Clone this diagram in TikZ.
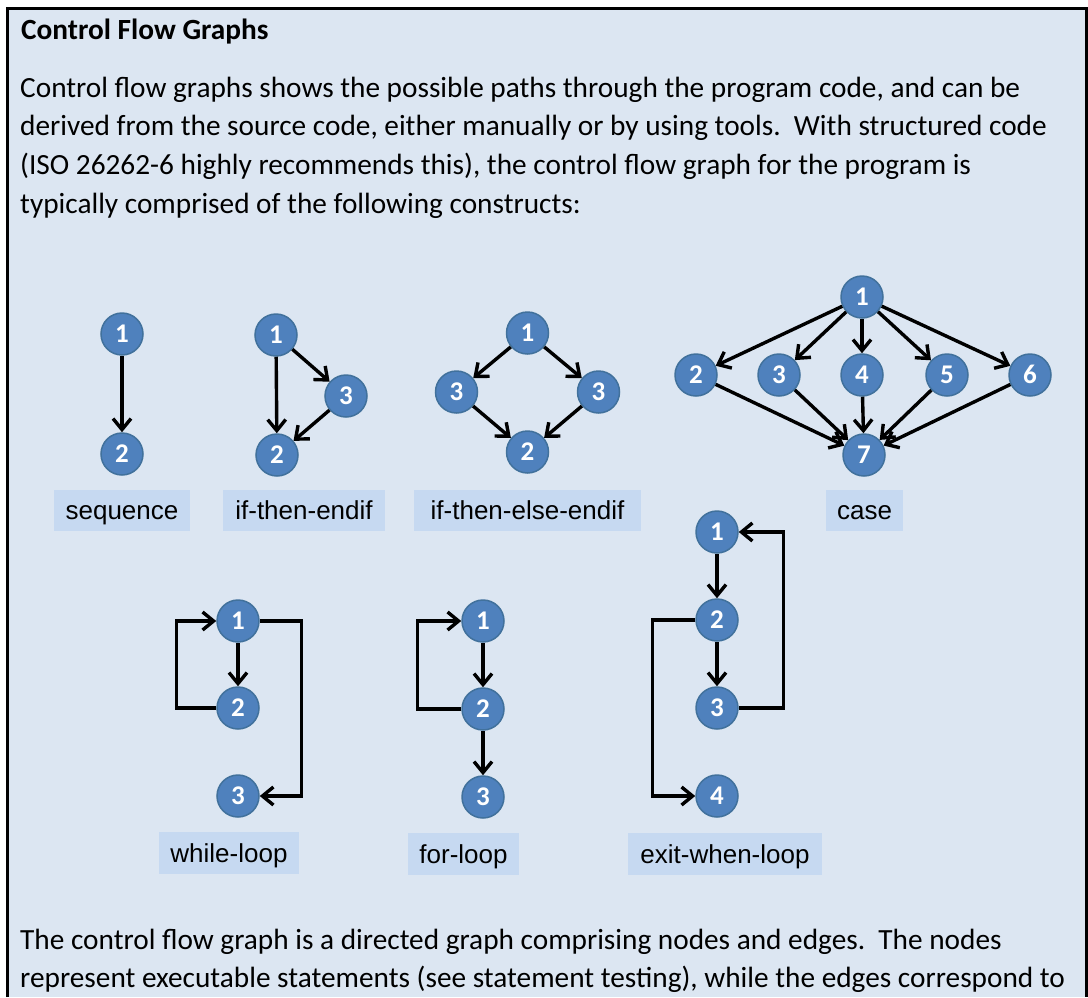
\documentclass[tikz,border=0pt]{standalone}
\usepackage{fontspec}
\setmainfont{Carlito}
\newfontfamily\lblfont{Liberation Sans}
\usetikzlibrary{arrows.meta}
\definecolor{bgcol}{HTML}{DCE6F2}
\definecolor{lblfill}{HTML}{C6D9F1}
\definecolor{nodefill}{HTML}{4F81BD}
\definecolor{nodeline}{HTML}{41719C}
\tikzset{
  cfg/.style={circle, fill=nodefill, draw=nodeline, line width=1.5pt, minimum size=42pt, inner sep=0pt, text=white, text height=17pt, text depth=0pt, font=\fontsize{27}{27}\selectfont\bfseries},
  lbl/.style={fill=lblfill, minimum height=41pt, inner sep=0pt, text=black, text height=18.6pt, text depth=0pt, font=\lblfont\fontsize{26}{26}\selectfont},
  arr/.style={-{Straight Barb[length=11pt,width=18pt]}, line width=3.4pt},
  txt/.style={anchor=base west, inner sep=0pt, font=\fontsize{29.3}{35}\selectfont},
}
\begin{document}
\begin{tikzpicture}[x=1pt,y=-1pt]
\useasboundingbox (0,0) rectangle (1088,997);
\fill[bgcol] (7,8.5) rectangle (1086,997);
\draw[line width=3pt] (7,997) -- (7,8.5) -- (1086,8.5) -- (1086,997);

% texts
\node[txt, font=\fontsize{29.3}{35}\selectfont\bfseries] (title) at (21,39.5) {Control Flow Graphs};
\node[txt] (p1) at (20,97) {Control flow graphs shows the possible paths through the program code, and can be};
\node[txt] (p2) at (20,135.7) {derived from the source code, either manually or by using tools.\ \ With structured code};
\node[txt] (p3) at (20,174.4) {(ISO 26262-6 highly recommends this), the control flow graph for the program is};
\node[txt] (p4) at (20,213.1) {typically comprised of the following constructs:};
\node[txt] (q1) at (20,949) {The control flow graph is a directed graph comprising nodes and edges.\ \ The nodes};
\node[txt] (q2) at (20,987.7) {represent executable statements (see statement testing), while the edges correspond to};

% sequence
\node[cfg] (s1) at (122,334) {1};
\node[cfg] (s2) at (122,454) {2};
\draw[arr] (s1) -- (s2);
\node[lbl, minimum width=136pt] (ls) at (122,510.5) {sequence};

% if-then-endif
\node[cfg] (a1) at (276,335) {1};
\node[cfg] (a3) at (346,396) {3};
\node[cfg] (a2) at (277,455) {2};
\draw[arr] (a1) -- (a2);
\draw[arr] (a1) -- (a3);
\draw[arr] (a3) -- (a2);
\node[lbl, minimum width=162pt] (la) at (304,510.5) {if-then-endif};

% if-then-else-endif
\node[cfg] (b1) at (527.5,333) {1};
\node[cfg] (b3l) at (456.5,392) {3};
\node[cfg] (b3r) at (598.5,392) {3};
\node[cfg] (b2) at (527.5,452) {2};
\draw[arr] (b1) -- (b3l);
\draw[arr] (b1) -- (b3r);
\draw[arr] (b3l) -- (b2);
\draw[arr] (b3r) -- (b2);
\node[lbl, minimum width=227pt] (lb) at (527.5,510.5) {if-then-else-endif};

% case
\node[cfg] (c1) at (862,297) {1};
\node[cfg] (c2) at (696,375) {2};
\node[cfg] (c3) at (779,375) {3};
\node[cfg] (c4) at (862,375) {4};
\node[cfg] (c5) at (947,375) {5};
\node[cfg] (c6) at (1030,375) {6};
\node[cfg] (c7) at (864,455) {7};
\foreach \n in {c2,c3,c4,c5,c6}{
  \draw[arr] (c1) -- (\n);
  \draw[arr] (\n) -- (c7);
}
\node[lbl, minimum width=77pt] (lc) at (864.5,510.5) {case};

% while-loop
\node[cfg] (w1) at (238,621) {1};
\node[cfg] (w2) at (238,708) {2};
\node[cfg] (w3) at (238,796) {3};
\draw[arr] (w1) -- (w2);
\draw[arr] (w2.west) -- ++(-40,0) |- (w1.west);
\draw[arr] (w1.east) -- ++(42,0) |- (w3.east);
\node[lbl, minimum width=140pt, minimum height=42pt] (lw) at (229,853) {while-loop};

% for-loop
\node[cfg] (f1) at (483,621) {1};
\node[cfg] (f2) at (483,709) {2};
\node[cfg] (f3) at (483,797) {3};
\draw[arr] (f1) -- (f2);
\draw[arr] (f2) -- (f3);
\draw[arr] (f2.west) -- ++(-44,0) |- (f1.west);
\node[lbl, minimum width=111pt, minimum height=42pt] (lf) at (463.5,854) {for-loop};

% exit-when-loop
\node[cfg] (e1) at (717,532) {1};
\node[cfg] (e2) at (717,620) {2};
\node[cfg] (e3) at (717,708) {3};
\node[cfg] (e4) at (717,796) {4};
\draw[arr] (e1) -- (e2);
\draw[arr] (e2) -- (e3);
\draw[arr] (e3.east) -- ++(45,0) |- (e1.east);
\draw[arr] (e2.west) -- ++(-43,0) |- (e4.west);
\node[lbl, minimum width=194pt, minimum height=42pt] (le) at (725,854) {exit-when-loop};
\end{tikzpicture}
\end{document}
